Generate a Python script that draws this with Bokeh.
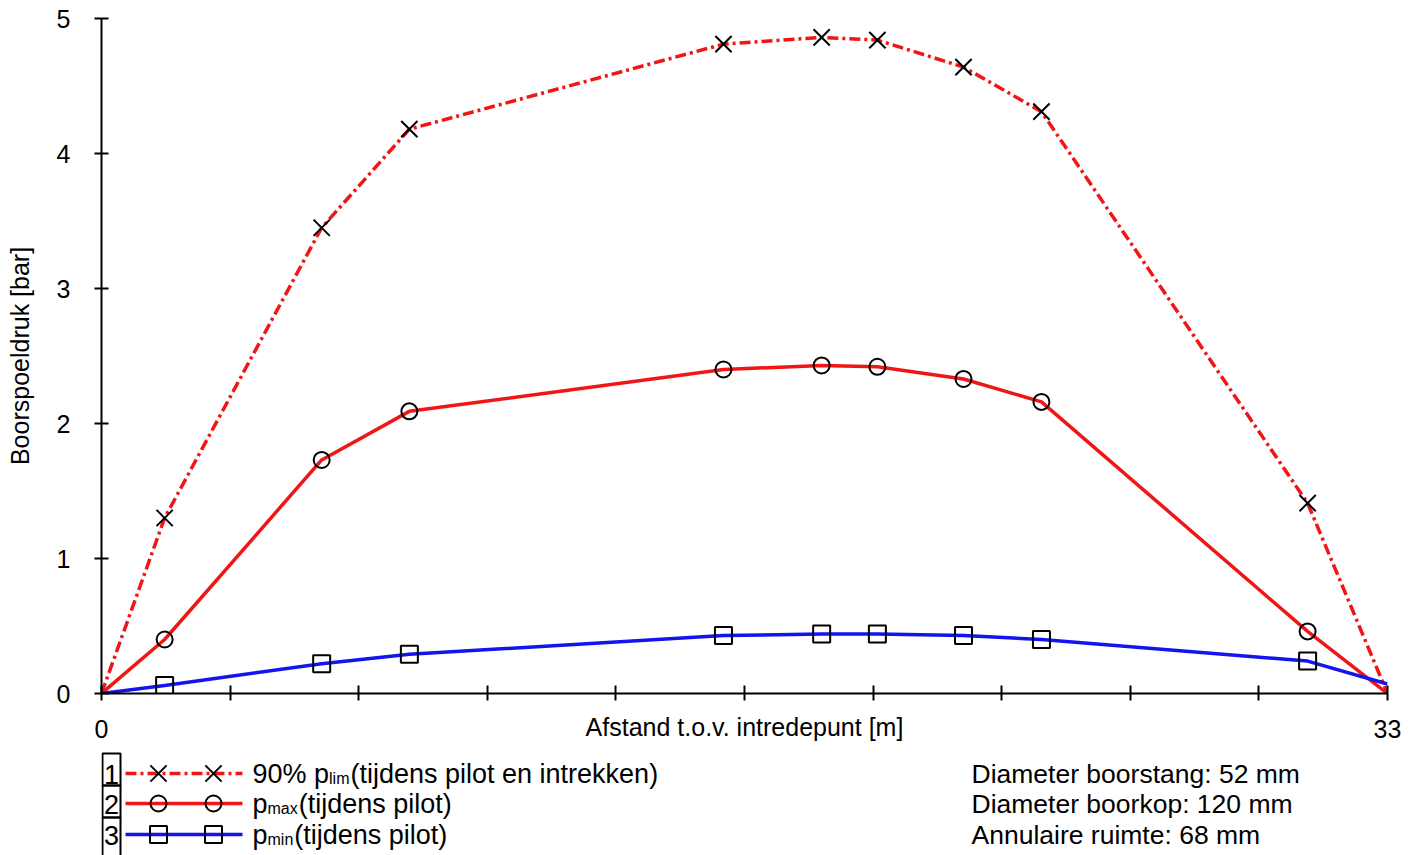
from bokeh.plotting import figure
from bokeh.models import Range1d, FixedTicker
from bokeh.layouts import column
from bokeh.embed import file_html
from bokeh.resources import INLINE
from bokeh.core.properties import value

# ---------------- data ----------------
afstand = [0, 1.62, 5.65, 7.90, 15.96, 18.48, 19.91, 22.12, 24.12, 30.95, 33]
p_lim90 = [0, 1.30, 3.45, 4.18, 4.81, 4.86, 4.84, 4.64, 4.31, 1.41, 0]
p_max = [0, 0.40, 1.73, 2.09, 2.40, 2.43, 2.42, 2.33, 2.16, 0.46, 0]
p_min = [0, 0.06, 0.22, 0.29, 0.43, 0.44, 0.44, 0.43, 0.40, 0.24, 0.07]

x_major_ticks = [0, 33]
x_minor_ticks = [3.3, 6.6, 9.9, 13.2, 16.5, 19.8, 23.1, 26.4, 29.7]
y_ticks = [0, 1, 2, 3, 4, 5]

x_label = "Afstand t.o.v. intredepunt [m]"
y_label = "Boorspoeldruk [bar]"

legend_numbers = ["1", "2", "3"]
legend_main = ["90% p", "p", "p"]
legend_sub = ["lim", "max", "min"]
legend_tail = ["(tijdens pilot en intrekken)", "(tijdens pilot)", " (tijdens pilot)"]
info_lines = ["Diameter boorstang: 52 mm", "Diameter boorkop: 120 mm", "Annulaire ruimte: 68 mm"]

RED = "#f01616"
BLUE = "#1414ee"
FONT = "Liberation Sans"
LW = 3.5

# ---------------- main chart ----------------
p = figure(width=1411, height=745, output_backend="svg", toolbar_location=None,
           x_range=Range1d(0, 33), y_range=Range1d(0, 5),
           min_border_left=101, min_border_right=24, min_border_top=18, min_border_bottom=52)
p.outline_line_color = None
p.xgrid.grid_line_color = None
p.ygrid.grid_line_color = None
p.background_fill_color = "white"
p.border_fill_color = "white"

p.line(afstand, p_lim90, line_color=RED, line_width=LW, line_dash="11 4 3 4")
p.line(afstand, p_max, line_color=RED, line_width=LW)
p.line(afstand, p_min, line_color=BLUE, line_width=LW)

p.scatter(afstand[1:-1], p_lim90[1:-1], marker="x", size=23, line_color="black", line_width=2)
p.scatter(afstand[1:-1], p_max[1:-1], marker="circle", size=16, line_color="black",
          fill_color=None, line_width=2)
p.scatter(afstand[1:-1], p_min[1:-1], marker="square", size=17, line_color="black",
          fill_color=None, line_width=2)

for ax in (p.xaxis[0], p.yaxis[0]):
    ax.axis_label_text_font = FONT
    ax.axis_label_text_font_size = "25px"
    ax.axis_label_text_font_style = "normal"
    ax.axis_label_text_color = "black"
    ax.major_label_text_font = FONT
    ax.major_label_text_font_size = "25px"
    ax.major_label_text_color = "black"
    ax.axis_line_width = 2
    ax.major_tick_line_width = 2

xa = p.xaxis[0]
xa.ticker = FixedTicker(ticks=x_major_ticks, minor_ticks=x_minor_ticks)
xa.axis_label = x_label
xa.axis_label_standoff = -28
xa.major_label_standoff = 19
xa.minor_tick_line_width = 2
xa.major_tick_in = 8
xa.major_tick_out = 7
xa.minor_tick_in = 8
xa.minor_tick_out = 7
xa.minor_tick_line_color = "black"

ya = p.yaxis[0]
ya.ticker = FixedTicker(ticks=y_ticks)
ya.axis_label = y_label
ya.axis_label_standoff = 20
ya.major_label_standoff = 24
ya.major_tick_in = 7
ya.major_tick_out = 7
ya.minor_tick_line_color = None

# ---------------- legend strip ----------------
lg = figure(width=1411, height=110, output_backend="svg", toolbar_location=None,
            x_range=Range1d(101, 1387), y_range=Range1d(110, 0),
            x_axis_type=None, y_axis_type=None,
            min_border_left=101, min_border_right=24, min_border_top=0, min_border_bottom=0)
lg.outline_line_color = None
lg.xgrid.grid_line_color = None
lg.ygrid.grid_line_color = None

F = 27
FS = 16
W = {'9': .556, '0': .556, '%': .889, ' ': .278, 'p': .556, 'l': .222, 'i': .222,
     'm': .833, 'a': .556, 'x': .5, 'n': .556}


def tw(s, size):
    return sum(W.get(c, .556) for c in s) * size


row_mid = [28, 58, 89]
box_top = [8, 40, 72]
box_bot = [40, 72, 112]

# number boxes
lg.quad(left=[102] * 3, right=[120] * 3, top=box_top, bottom=box_bot,
        fill_color=None, line_color="black", line_width=2)
lg.text(x=[111] * 3, y=[m + 1 for m in row_mid], text=legend_numbers,
        text_font=value(FONT), text_font_size=f"{F}px", text_align="center",
        text_baseline="middle", text_color="black")

# sample lines
lg.line([125, 242], [row_mid[0]] * 2, line_color=RED, line_width=LW, line_dash="11 4 3 4")
lg.line([125, 242], [row_mid[1]] * 2, line_color=RED, line_width=LW)
lg.line([125, 242], [row_mid[2]] * 2, line_color=BLUE, line_width=LW)
lg.scatter([158, 213], [row_mid[0]] * 2, marker="x", size=23, line_color="black", line_width=2)
lg.scatter([158, 213], [row_mid[1]] * 2, marker="circle", size=16, line_color="black",
           fill_color=None, line_width=2)
lg.scatter([158, 213], [row_mid[2]] * 2, marker="square", size=17, line_color="black",
           fill_color=None, line_width=2)

x0 = 252
for i in range(3):
    xs = x0 + tw(legend_main[i], F)
    xt = xs + tw(legend_sub[i], FS) + 1
    lg.text(x=[x0], y=[row_mid[i]], text=[legend_main[i]], text_font=value(FONT),
            text_font_size=f"{F}px", text_baseline="middle", text_color="black")
    lg.text(x=[xs], y=[row_mid[i] + 5], text=[legend_sub[i]], text_font=value(FONT),
            text_font_size=f"{FS}px", text_baseline="middle", text_color="black")
    lg.text(x=[xt], y=[row_mid[i]], text=[legend_tail[i]], text_font=value(FONT),
            text_font_size=f"{F}px", text_baseline="middle", text_color="black")

lg.text(x=[971] * 3, y=row_mid, text=info_lines, text_font=value(FONT),
        text_font_size="26.5px", text_baseline="middle", text_color="black")

layout = column(p, lg, spacing=0)
open("out.html", "w").write(file_html(layout, INLINE))
